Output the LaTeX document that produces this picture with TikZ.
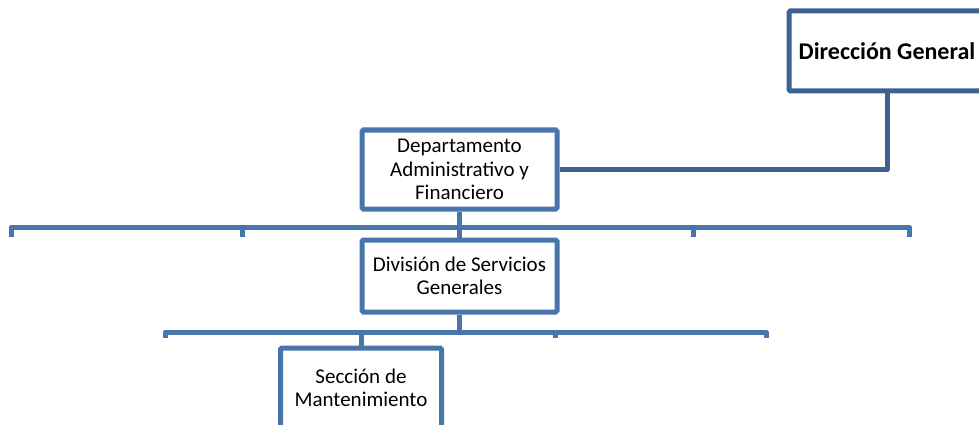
\documentclass[tikz,border=0pt]{standalone}
\usepackage{fontspec}
\setmainfont{Carlito}
\definecolor{lineblue}{RGB}{72,117,170}
\definecolor{darkblue}{RGB}{60,98,146}
\begin{document}
\begin{tikzpicture}[x=1pt,y=-1pt,
  orgbox/.style={draw=lineblue,line width=5pt,rounded corners=1.5pt,fill=white,
    align=center,inner sep=0pt,text=black,
    font=\fontsize{21}{23.5}\selectfont},
  conn/.style={draw=lineblue,line width=5pt,line join=round,line cap=butt}]
\clip (0,0) rectangle (979,425);
\fill[white] (0,0) rectangle (979,425);
% boxes
\node[orgbox,draw=darkblue,minimum width=196pt,minimum height=80pt,
  font=\fontsize{24}{27}\selectfont\bfseries] (dir) at (887,51) {Dirección General};
\node[orgbox,minimum width=195pt,minimum height=79pt] (dept) at (459.5,169.5)
  {Departamento\\Administrativo y\\Financiero};
\node[orgbox,minimum width=195pt,minimum height=72pt] (div) at (459.5,276)
  {División de Servicios\\Generales};
\node[orgbox,minimum width=161pt,minimum height=80pt] (sec) at (361,388)
  {Sección de\\Mantenimiento};
% connector Dirección -> Departamento
\draw[conn,draw=darkblue] (dir.south) |- (dept.east);
% upper bus
\coordinate (u1) at (11,237);
\coordinate (u2) at (242,237);
\coordinate (u3) at (693,237);
\coordinate (u4) at (909,237);
\coordinate (ubus) at (459.5,227);
\draw[conn] (u1) |- (ubus) -| (u4);
\draw[conn] (u2) -- (u2 |- ubus);
\draw[conn] (u3) -- (u3 |- ubus);
\draw[conn] (dept.south) -- (div.north);
% lower bus
\coordinate (l1) at (165,338);
\coordinate (l2) at (555,338);
\coordinate (l3) at (766,338);
\coordinate (lbus) at (459.5,332);
\draw[conn] (l1) |- (lbus) -| (l3);
\draw[conn] (l2) -- (l2 |- lbus);
\draw[conn] (div.south) -- (lbus);
\draw[conn] (sec.north) -- (sec.north |- lbus);
\end{tikzpicture}
\end{document}
